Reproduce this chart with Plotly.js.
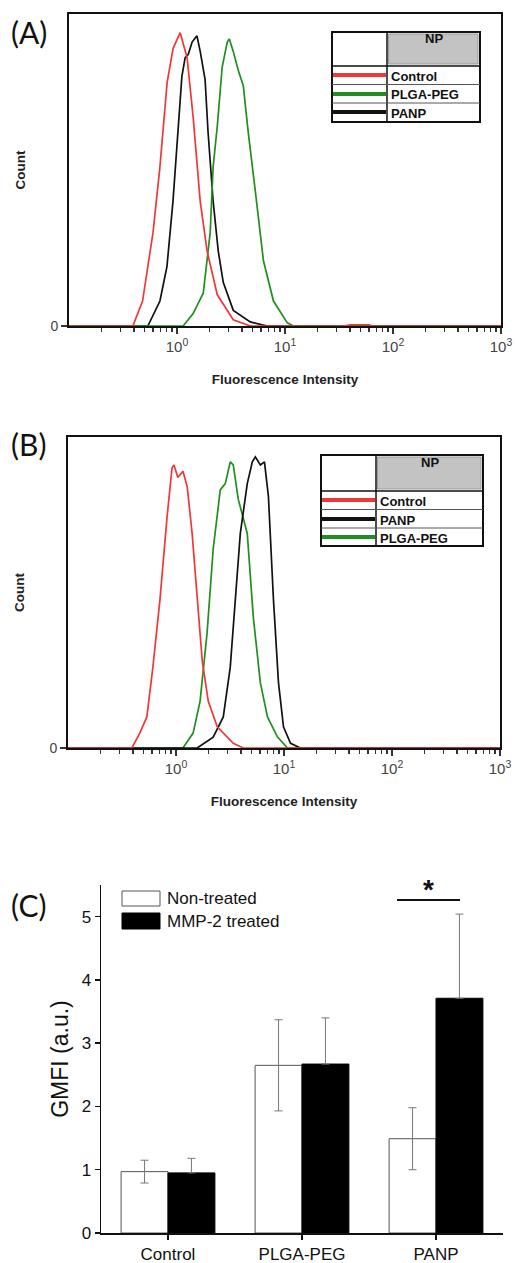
<!DOCTYPE html>
<html>
<head>
<meta charset="utf-8">
<script src="https://cdn.plot.ly/plotly-3.0.1.min.js"></script>
<style>html,body{margin:0;padding:0;background:#fff}#chart{width:515px;height:1263px}</style>
</head>
<body>
<div id="chart"></div>
<script>
// ---------- Data ----------
// Panel A histograms (x = fluorescence intensity, y = relative count)
const aControlX = [0.1, 0.39, 0.48, 0.60, 0.695, 0.81, 0.92, 1.07, 1.24, 1.41, 1.64, 1.90, 2.36, 3.32, 4.77, 35, 40, 60, 65, 1000];
const aControlY = [0, 0, 8, 30, 51, 78, 89, 94, 86, 67, 40, 24, 10, 2, 0, 0, 0.4, 0.4, 0, 0];
const aPanpX = [0.1, 0.537, 0.695, 0.807, 0.918, 1.02, 1.11, 1.19, 1.27, 1.38, 1.53, 1.64, 1.82, 1.94, 2.16, 2.41, 2.68, 3.32, 4.77, 6.87, 1000];
const aPanpY = [0, 0, 8, 19, 40, 62, 80, 86, 87, 91, 93, 88, 79, 62, 40, 24, 14, 5, 1.3, 0, 0];
const aPlgaX = [0.1, 1.14, 1.41, 1.75, 2.03, 2.16, 2.36, 2.62, 2.92, 3.05, 3.32, 3.69, 4.11, 4.57, 5.32, 6.31, 7.82, 10.5, 12.0, 1000];
const aPlgaY = [0, 0, 4, 10.5, 30, 51, 64, 83, 91, 92, 88, 82, 77, 62, 43, 21, 8, 1, 0, 0];

// Panel B histograms
const bControlX = [0.1, 0.39, 0.462, 0.537, 0.611, 0.710, 0.825, 0.918, 0.958, 1.04, 1.16, 1.27, 1.41, 1.57, 1.75, 1.99, 2.41, 3.39, 4.20, 1000];
const bControlY = [0, 0, 4.8, 10, 26, 47.6, 74, 90, 91, 87, 89, 84, 69, 47.6, 28, 15, 6.8, 1.5, 0, 0];
const bPanpX = [0.1, 1.57, 2.21, 2.74, 3.18, 3.54, 3.94, 4.57, 5.09, 5.43, 6.04, 6.59, 7.17, 7.99, 8.89, 9.89, 11.5, 14.2, 1000];
const bPanpY = [0, 0, 3.5, 10, 26, 47.6, 69, 85, 92, 93.6, 91, 92, 81, 47.6, 21, 6.8, 1.5, 0, 0];
const bPlgaX = [0.1, 1.16, 1.44, 1.67, 1.94, 2.21, 2.57, 2.86, 3.18, 3.39, 3.77, 4.57, 5.20, 6.04, 7.03, 8.71, 10.8, 1000];
const bPlgaY = [0, 0, 4.8, 15, 37, 64, 83, 85, 92, 91, 80, 69, 42, 21, 10, 3.5, 0, 0];

// Panel C bar chart
const categories = ['Control', 'PLGA-PEG', 'PANP'];
const nonTreated = [0.97, 2.65, 1.49];
const nonTreatedErr = [0.18, 0.72, 0.49];
const mmpTreated = [0.95, 2.67, 3.71];
const mmpTreatedErr = [0.23, 0.73, 1.33];
const mmpTreatedErrLow = [0, 0, 0];   // lower half hidden inside the black bars

// Tick labels
const logTickVals = [1, 10, 100, 1000];
const logTickText = ['10<sup>0</sup>', '10<sup>1</sup>', '10<sup>2</sup>', '10<sup>3</sup>'];
const minorTickVals = [];
[0.1, 1, 10, 100].forEach(d => { for (let k = 2; k <= 9; k++) minorTickVals.push(k * d); });

// ---------- Layout helpers ----------
const W = 515, H = 1263;
const PX = x => x / W;
const PY = y => 1 - y / H;
const RED = '#f03838', GREEN = '#1f8f1f', BLACK = '#111111';
const BOLDF = '"Liberation Sans", Arial, sans-serif';
const ARIAL = '"Liberation Sans", Arial, sans-serif';

const shapes = [];
const annotations = [];
function rect(x0, y0, x1, y1, fill, lc, lw) {
  shapes.push({type: 'rect', xref: 'paper', yref: 'paper', x0: PX(x0), x1: PX(x1), y0: PY(y1), y1: PY(y0),
    fillcolor: fill, line: {color: lc, width: lw}, layer: 'above'});
}
function hline(x0, x1, y, color, width) {
  shapes.push({type: 'line', xref: 'paper', yref: 'paper', x0: PX(x0), x1: PX(x1), y0: PY(y), y1: PY(y),
    line: {color: color, width: width}, layer: 'above'});
}
function vline(x, y0, y1, color, width) {
  shapes.push({type: 'line', xref: 'paper', yref: 'paper', x0: PX(x), x1: PX(x), y0: PY(y0), y1: PY(y1),
    line: {color: color, width: width}, layer: 'above'});
}
function text(t, x, y, size, family, color, xanchor) {
  annotations.push({text: t, xref: 'paper', yref: 'paper', x: PX(x), y: PY(y), showarrow: false,
    xanchor: xanchor || 'left', yanchor: 'middle', font: {size: size, family: family, color: color || '#111'}});
}

// Legend table drawer
function legendTable(L, T, R, B, div, headBottom, rows, names, colors) {
  rect(L, T, R, B, 'rgba(255,255,255,1)', BLACK, 2);
  rect(div + 1.5, T + 2, R - 2, headBottom - 2, '#c3c3c3', '#9a9a9a', 1);
  vline(div, T, B, BLACK, 1.5);
  hline(L, R, headBottom, BLACK, 1.5);
  for (let i = 1; i < rows.length; i++) hline(L, R, (rows[i - 1] + rows[i]) / 2, '#555', 1);
  text('<b>NP</b>', (div + R) / 2, T + 7, 13, BOLDF, '#111', 'center');
  rows.forEach((y, i) => {
    hline(L + 1, div - 1, y, colors[i], 4);
    text('<b>' + names[i] + '</b>', div + 2, y + 1, 13, BOLDF, '#111', 'left');
  });
}
legendTable(332, 32, 480, 122, 387, 66, [75, 94, 112], ['Control', 'PLGA-PEG', 'PANP'], [RED, GREEN, BLACK]);
legendTable(321, 455, 483, 546, 376, 491, [500, 519, 537], ['Control', 'PANP', 'PLGA-PEG'], [RED, BLACK, GREEN]);

// Panel labels
const PANEL_FONT = 'Lato, "Open Sans", sans-serif';
text('(A)', 9, 32, 30, PANEL_FONT, '#111', 'left');
text('(B)', 9, 444, 30, PANEL_FONT, '#111', 'left');
text('(C)', 9, 905, 30, PANEL_FONT, '#111', 'left');

// Panel C legend
rect(122, 891, 160, 906, '#ffffff', '#555', 1);
rect(122, 913, 160, 929, '#000000', '#000', 1);
text('Non-treated', 165, 898, 17, ARIAL, '#111', 'left');
text('MMP-2 treated', 165, 921, 17, ARIAL, '#111', 'left');
// significance marker
hline(397, 460, 900, BLACK, 2);
text('<b>*</b>', 428, 889, 28, ARIAL, '#111', 'center');

// ---------- Traces ----------
function hist(x, y, color, xa, ya) {
  return {type: 'scatter', mode: 'lines', x: x, y: y, xaxis: xa, yaxis: ya,
    line: {color: color, width: 1.7}, showlegend: false, hoverinfo: 'skip'};
}
const traces = [
  hist(aPanpX, aPanpY, BLACK, 'x', 'y'),
  hist(aPlgaX, aPlgaY, GREEN, 'x', 'y'),
  hist(aControlX, aControlY, RED, 'x', 'y'),
  hist(bPlgaX, bPlgaY, GREEN, 'x2', 'y2'),
  hist(bPanpX, bPanpY, BLACK, 'x2', 'y2'),
  hist(bControlX, bControlY, RED, 'x2', 'y2'),
  {type: 'bar', name: 'Non-treated', x: categories, y: nonTreated, xaxis: 'x3', yaxis: 'y3',
    marker: {color: '#ffffff', line: {color: '#555', width: 1}},
    error_y: {type: 'data', array: nonTreatedErr, visible: true, color: '#777', thickness: 1, width: 4},
    showlegend: false},
  {type: 'bar', name: 'MMP-2 treated', x: categories, y: mmpTreated, xaxis: 'x3', yaxis: 'y3',
    marker: {color: '#000000', line: {color: '#000', width: 1}},
    error_y: {type: 'data', symmetric: false, array: mmpTreatedErr, arrayminus: mmpTreatedErrLow, visible: true, color: '#777', thickness: 1, width: 4},
    showlegend: false}
];

function histX(dom, anchor) {
  return {domain: dom, anchor: anchor, type: 'log', range: [-1, 3], showgrid: false, zeroline: false,
    showline: true, mirror: true, linecolor: BLACK, linewidth: 2,
    ticks: 'outside', ticklen: 6, tickwidth: 1.5, tickcolor: '#333',
    tickmode: 'array', tickvals: logTickVals, ticktext: logTickText,
    tickfont: {size: 15, family: ARIAL, color: '#444'},
    minor: {tickmode: 'array', tickvals: minorTickVals, ticks: 'outside', ticklen: 3.5, tickwidth: 1.5, tickcolor: '#333', showgrid: false},
    title: {text: '<b>Fluorescence Intensity</b>', font: {size: 13.5, family: BOLDF, color: '#222'}, standoff: 21}};
}
function histY(dom, anchor) {
  return {domain: dom, anchor: anchor, range: [0, 100], showgrid: false, zeroline: false,
    showline: true, mirror: true, linecolor: BLACK, linewidth: 2,
    ticks: 'outside', ticklen: 6, tickwidth: 1.5, tickcolor: '#333',
    tickmode: 'array', tickvals: [0], ticktext: ['0'],
    tickfont: {size: 14, family: ARIAL, color: '#444'},
    title: {text: '<b>Count</b>', font: {size: 13.5, family: BOLDF, color: '#222'}, standoff: 22}};
}

const layout = {
  width: W, height: H, margin: {l: 0, r: 0, t: 0, b: 0},
  paper_bgcolor: '#fff', plot_bgcolor: 'rgba(0,0,0,0)', showlegend: false,
  xaxis: histX([PX(69), PX(501)], 'y'),
  yaxis: histY([PY(326), PY(14)], 'x'),
  xaxis2: histX([PX(68), PX(500)], 'y2'),
  yaxis2: histY([PY(748), PY(437)], 'x2'),
  xaxis3: {domain: [PX(101), PX(503)], anchor: 'y3', type: 'category', range: [-0.5, 2.5],
    showline: true, linecolor: BLACK, linewidth: 1.5, showgrid: false, zeroline: false,
    ticks: 'outside', ticklen: 5, tickcolor: BLACK, tickwidth: 1.5,
    tickfont: {size: 17, family: ARIAL, color: '#111'}},
  yaxis3: {domain: [PY(1233), PY(885)], anchor: 'x3', range: [0, 5.5],
    showline: true, linecolor: BLACK, linewidth: 1.5, showgrid: false, zeroline: false,
    ticks: 'outside', ticklen: 5, tickcolor: BLACK, tickwidth: 1.5, dtick: 1, tick0: 0,
    tickfont: {size: 17, family: ARIAL, color: '#111'},
    title: {text: 'GMFI (a.u.)', font: {size: 23, family: ARIAL, color: '#111'}, standoff: 6}},
  barmode: 'group', bargap: 0.3, bargroupgap: 0,
  shapes: shapes, annotations: annotations
};

Plotly.newPlot('chart', traces, layout, {staticPlot: true, displayModeBar: false});
</script>
</body>
</html>
